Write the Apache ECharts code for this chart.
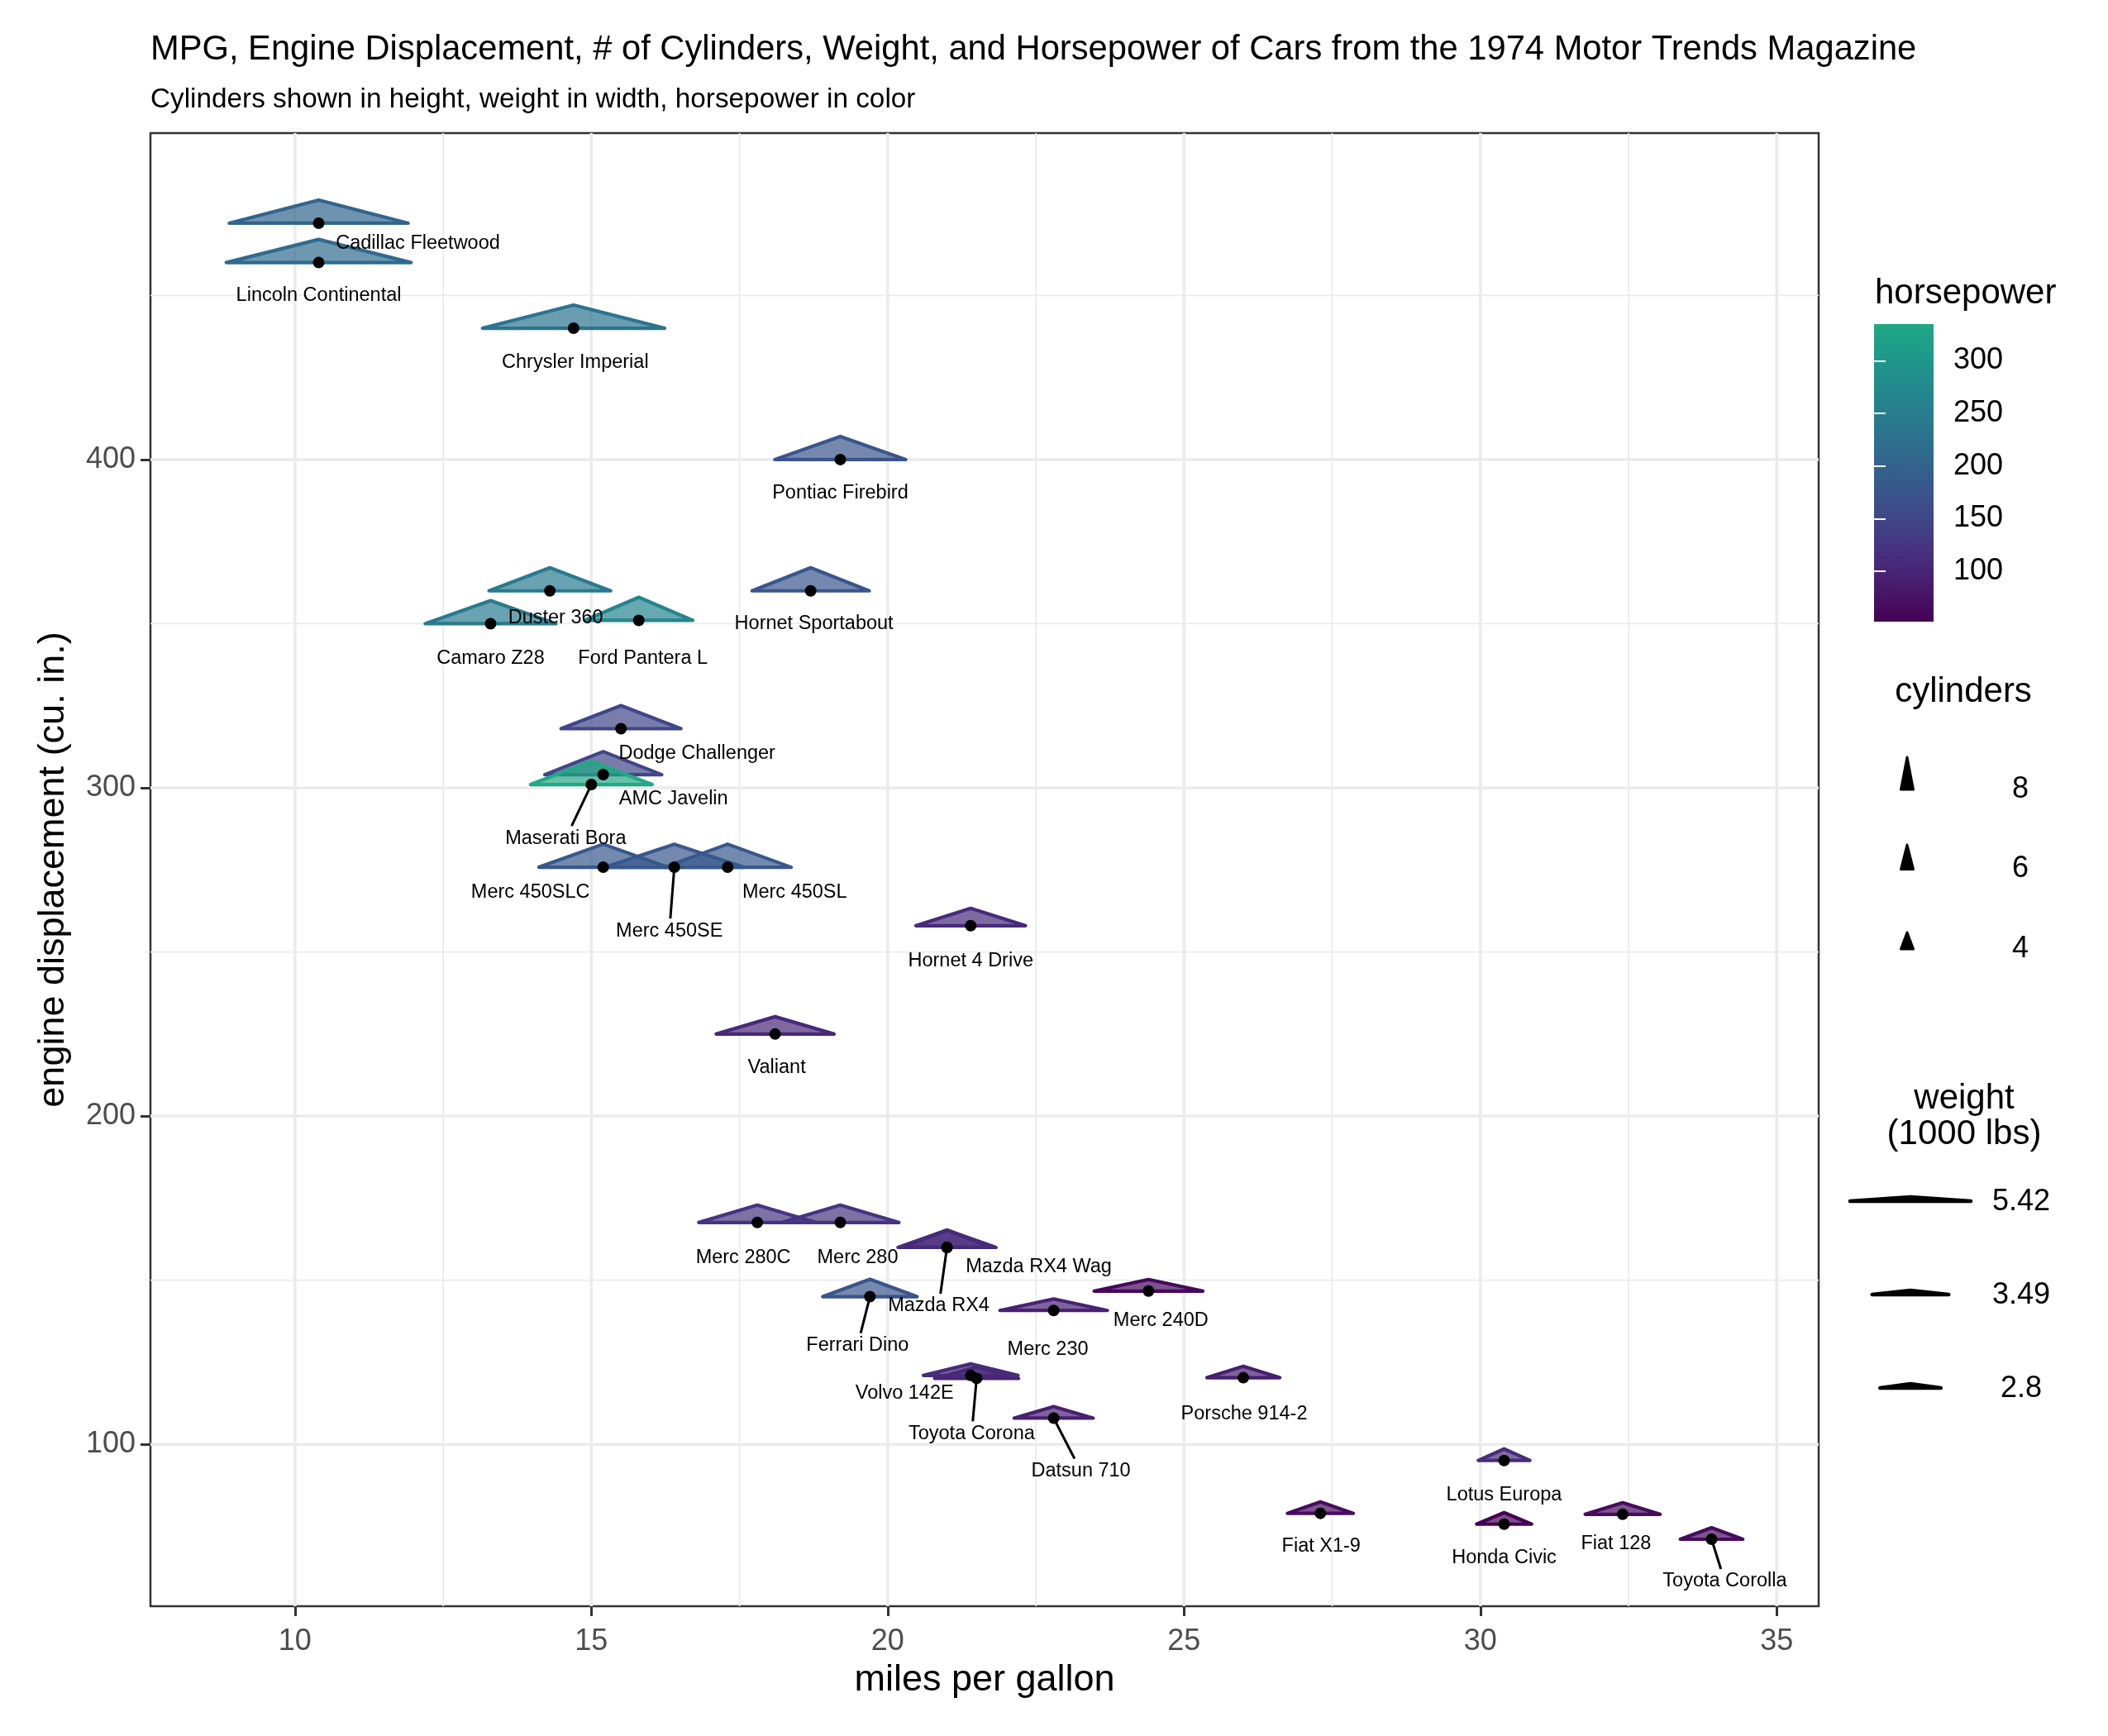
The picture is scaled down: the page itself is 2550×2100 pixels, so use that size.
<!DOCTYPE html>
<html>
<head>
<meta charset="utf-8">
<script src="https://cdn.jsdelivr.net/npm/echarts@6/dist/echarts.min.js"></script>
<style>
  html, body { margin: 0; padding: 0; background: #fff; }
  #chart { width: 2550px; height: 2100px; }
</style>
</head>
<body>
<div id="chart"></div>
<script>
// mtcars, Motor Trend 1974
const cars = ['Mazda RX4', 'Mazda RX4 Wag', 'Datsun 710', 'Hornet 4 Drive', 'Hornet Sportabout', 'Valiant',
  'Duster 360', 'Merc 240D', 'Merc 230', 'Merc 280', 'Merc 280C', 'Merc 450SE', 'Merc 450SL', 'Merc 450SLC',
  'Cadillac Fleetwood', 'Lincoln Continental', 'Chrysler Imperial', 'Fiat 128', 'Honda Civic', 'Toyota Corolla',
  'Toyota Corona', 'Dodge Challenger', 'AMC Javelin', 'Camaro Z28', 'Pontiac Firebird', 'Fiat X1-9',
  'Porsche 914-2', 'Lotus Europa', 'Ford Pantera L', 'Ferrari Dino', 'Maserati Bora', 'Volvo 142E'];
const mpg = [21.0, 21.0, 22.8, 21.4, 18.7, 18.1, 14.3, 24.4, 22.8, 19.2, 17.8, 16.4, 17.3, 15.2, 10.4, 10.4,
  14.7, 32.4, 30.4, 33.9, 21.5, 15.5, 15.2, 13.3, 19.2, 27.3, 26.0, 30.4, 15.8, 19.7, 15.0, 21.4];
const disp = [160, 160, 108, 258, 360, 225, 360, 146.7, 140.8, 167.6, 167.6, 275.8, 275.8, 275.8, 472, 460,
  440, 78.7, 75.7, 71.1, 120.1, 318, 304, 350, 400, 79, 120.3, 95.1, 351, 145, 301, 121];
const cyl = [6, 6, 4, 6, 8, 6, 8, 4, 4, 6, 6, 8, 8, 8, 8, 8, 8, 4, 4, 4, 4, 8, 8, 8, 8, 4, 4, 4, 8, 6, 8, 4];
const hp = [110, 110, 93, 110, 175, 105, 245, 62, 95, 123, 123, 180, 180, 180, 205, 215, 230, 66, 52, 65, 97,
  150, 150, 245, 175, 66, 91, 113, 264, 175, 335, 109];
const wt = [2.620, 2.875, 2.320, 3.215, 3.440, 3.460, 3.570, 3.190, 3.150, 3.440, 3.440, 4.070, 3.730, 3.780,
  5.250, 5.424, 5.345, 2.200, 1.615, 1.835, 2.465, 3.520, 3.435, 3.840, 3.845, 1.935, 2.140, 1.513, 3.170,
  2.770, 3.570, 2.780];

const xTicks = [10, 15, 20, 25, 30, 35];
const xMinor = [12.5, 17.5, 22.5, 27.5, 32.5];
const yTicks = [100, 200, 300, 400];
const yMinor = [150, 250, 350, 450];
const hpTicks = [100, 150, 200, 250, 300];
const cylLegend = [8, 6, 4];
const wtLegend = [5.42, 3.49, 2.8];

// viridis, cut at 0.6
const viridis = ['#440154', '#471365', '#482475', '#463480', '#414487', '#3B528B', '#355F8D',
  '#2F6C8E', '#2A788E', '#25848E', '#21908C', '#1E9C89', '#22A884'];

// triangle size: width in mpg per 1000 lbs, height in cu.in. per cylinder
const WIDTH_PER_WT = 0.575;
const HEIGHT_PER_CYL = 0.88;

// repelled label placement, pixel offset from the point, and whether a segment is drawn
const labelNudge = {
  'Mazda RX4': [-10, 71, 1], 'Mazda RX4 Wag': [111, 24, 0], 'Datsun 710': [33, 64, 1],
  'Hornet 4 Drive': [0, 43, 0], 'Hornet Sportabout': [4, 40, 0], 'Valiant': [2, 41, 0],
  'Duster 360': [7, 33, 0], 'Merc 240D': [15, 36, 0], 'Merc 230': [-7, 47, 0],
  'Merc 280': [21, 43, 0], 'Merc 280C': [-17, 43, 0], 'Merc 450SE': [-6, 77, 1],
  'Merc 450SL': [81, 30, 0], 'Merc 450SLC': [-88, 30, 0], 'Cadillac Fleetwood': [120, 25, 0],
  'Lincoln Continental': [0, 40, 0], 'Chrysler Imperial': [2, 41, 0], 'Fiat 128': [-8, 36, 0],
  'Honda Civic': [0, 41, 0], 'Toyota Corolla': [16, 51, 1], 'Toyota Corona': [-6, 67, 1],
  'Dodge Challenger': [92, 30, 0], 'AMC Javelin': [85, 29, 0], 'Camaro Z28': [0, 42, 0],
  'Pontiac Firebird': [0, 41, 0], 'Fiat X1-9': [1, 40, 0], 'Porsche 914-2': [1, 44, 0],
  'Lotus Europa': [0, 42, 0], 'Ford Pantera L': [5, 46, 0], 'Ferrari Dino': [-15, 59, 1],
  'Maserati Bora': [-31, 65, 1], 'Volvo 142E': [-80, 22, 0]
};

const FONT = '"Liberation Sans", Arial, Helvetica, sans-serif';

// axis limits like ggplot: data extent incl. triangles, expanded 5%
const xLo = Math.min(...mpg.map((m, i) => m - WIDTH_PER_WT * wt[i] / 2));
const xHi = Math.max(...mpg.map((m, i) => m + WIDTH_PER_WT * wt[i] / 2));
const yLo = Math.min(...disp);
const yHi = Math.max(...disp.map((d, i) => d + HEIGHT_PER_CYL * cyl[i]));
const xMin = xLo - (xHi - xLo) * 0.05, xMax = xHi + (xHi - xLo) * 0.05;
const yMin = yLo - (yHi - yLo) * 0.05, yMax = yHi + (yHi - yLo) * 0.05;
const hpMin = Math.min(...hp), hpMax = Math.max(...hp);

const carData = mpg.map((m, i) => [m, disp[i], cyl[i], wt[i], hp[i]]);
const gridData = [
  ...xMinor.map(v => [v, 0, 0]), ...yMinor.map(v => [v, 1, 0]),
  ...xTicks.map(v => [v, 0, 1]), ...yTicks.map(v => [v, 1, 1])
];

const chart = echarts.init(document.getElementById('chart'));

const renderGridLine = (params, api) => {
  const cs = params.coordSys;
  const v = api.value(0);
  const w = api.value(2) ? 3.5 : 1.8;
  let shape;
  if (api.value(1) === 0) {
    const x = api.coord([v, yMin])[0];
    shape = { x1: x, y1: cs.y, x2: x, y2: cs.y + cs.height };
  } else {
    const y = api.coord([xMin, v])[1];
    shape = { x1: cs.x, y1: y, x2: cs.x + cs.width, y2: y };
  }
  return { type: 'line', shape, style: { stroke: '#EBEBEB', lineWidth: w } };
};

const renderTriangle = (params, api) => {
  const base = api.coord([api.value(0), api.value(1)]);
  const halfW = api.size([api.value(3) * WIDTH_PER_WT / 2, 0])[0];
  const h = api.size([0, api.value(2) * HEIGHT_PER_CYL])[1];
  const c = api.visual('color');
  return {
    type: 'polygon',
    shape: { points: [[base[0] - halfW, base[1]], [base[0], base[1] - h], [base[0] + halfW, base[1]]] },
    style: { fill: echarts.color.modifyAlpha(c, 0.7), stroke: c, lineWidth: 4.2, lineJoin: 'round' }
  };
};

const renderLabel = (params, api) => {
  const name = cars[params.dataIndex];
  const p = api.coord([api.value(0), api.value(1)]);
  const n = labelNudge[name];
  const children = [];
  if (n[2]) {
    const t = (n[1] - 15) / n[1];
    children.push({
      type: 'line',
      shape: { x1: p[0], y1: p[1], x2: p[0] + n[0] * t, y2: p[1] + n[1] * t },
      style: { stroke: '#000', lineWidth: 3 }
    });
  }
  children.push({
    type: 'text',
    style: {
      text: name, x: p[0] + n[0], y: p[1] + n[1], align: 'center', verticalAlign: 'middle',
      fontSize: 23.5, fontFamily: FONT, fill: '#000'
    }
  });
  return { type: 'group', children };
};

const renderColorbar = (params) => {
  const cs = params.coordSys;
  return {
    type: 'rect',
    shape: { x: cs.x, y: cs.y, width: cs.width, height: cs.height },
    style: {
      fill: {
        type: 'linear', x: 0, y: 1, x2: 0, y2: 0,
        colorStops: viridis.map((c, k) => ({ offset: k / (viridis.length - 1), color: c }))
      }
    }
  };
};

// legend keys for cylinders and weight
const legendGraphics = [];
legendGraphics.push({
  type: 'text', left: 2268, top: 334,
  style: { text: 'horsepower', fontSize: 42, fontFamily: FONT, fill: '#000' }
});
legendGraphics.push({
  type: 'text', x: 2375, y: 837,
  style: { text: 'cylinders', fontSize: 42, fontFamily: FONT, fill: '#000', align: 'center', verticalAlign: 'middle' }
});
cylLegend.forEach((c, k) => {
  const cx = 2307, by = 955 + k * 96.5, h = 4.75 * c + 1;
  legendGraphics.push({
    type: 'polygon',
    shape: { points: [[cx - 7.5, by], [cx, by - h], [cx + 7.5, by]] },
    style: { fill: '#000', stroke: '#000', lineWidth: 3, lineJoin: 'round' }
  });
  legendGraphics.push({
    type: 'text', x: 2444, y: by,
    style: { text: String(c), fontSize: 36, fontFamily: FONT, fill: '#000', align: 'center', verticalAlign: 'middle' }
  });
});
legendGraphics.push({
  type: 'text', x: 2376, y: 1351,
  style: {
    text: 'weight\n(1000 lbs)', fontSize: 42, lineHeight: 43, fontFamily: FONT, fill: '#000',
    align: 'center', verticalAlign: 'middle'
  }
});
wtLegend.forEach((w, k) => {
  const cx = 2311, by = 1453 + k * 113, half = (27.7 * w - 4) / 2;
  legendGraphics.push({
    type: 'polygon',
    shape: { points: [[cx - half, by], [cx, by - 5], [cx + half, by]] },
    style: { fill: '#000', stroke: '#000', lineWidth: 4.5, lineJoin: 'round' }
  });
  legendGraphics.push({
    type: 'text', x: 2445, y: by + 1,
    style: { text: String(w), fontSize: 36, fontFamily: FONT, fill: '#000', align: 'center', verticalAlign: 'middle' }
  });
});

const option = {
  animation: false,
  backgroundColor: '#fff',
  textStyle: { fontFamily: FONT },
  title: {
    text: 'MPG, Engine Displacement, # of Cylinders, Weight, and Horsepower of Cars from the 1974 Motor Trends Magazine',
    subtext: 'Cylinders shown in height, weight in width, horsepower in color',
    left: 182, top: 40, padding: 0, itemGap: 22,
    textStyle: { fontSize: 41.7, fontWeight: 'normal', color: '#000', fontFamily: FONT },
    subtextStyle: { fontSize: 33.3, color: '#000', fontFamily: FONT }
  },
  grid: [
    { left: 182, top: 161, width: 2018, height: 1782, show: true, borderColor: '#333333', borderWidth: 2.5, backgroundColor: 'transparent' },
    { left: 2267, top: 392, width: 72, height: 360 }
  ],
  xAxis: [
    {
      type: 'value', gridIndex: 0, min: xMin, max: xMax,
      splitLine: { show: false }, axisLine: { show: false },
      axisTick: { show: true, customValues: xTicks, length: 12, lineStyle: { color: '#333333', width: 3 } },
      axisLabel: {
        customValues: xTicks, fontSize: 36, color: '#4D4D4D', margin: 25,
        formatter: v => (xTicks.includes(v) ? String(v) : '')
      },
      name: 'miles per gallon', nameLocation: 'middle', nameGap: 67,
      nameTextStyle: { fontSize: 45, color: '#000' }
    },
    { type: 'value', gridIndex: 1, min: 0, max: 1, show: false }
  ],
  yAxis: [
    {
      type: 'value', gridIndex: 0, min: yMin, max: yMax,
      splitLine: { show: false }, axisLine: { show: false },
      axisTick: { show: true, customValues: yTicks, length: 12, lineStyle: { color: '#333333', width: 3 } },
      axisLabel: {
        customValues: yTicks, fontSize: 36, color: '#4D4D4D', margin: 18,
        formatter: v => (yTicks.includes(v) ? String(v) : '')
      },
      name: 'engine displacement (cu. in.)', nameLocation: 'middle', nameGap: 95, nameRotate: 90,
      nameTextStyle: { fontSize: 45, color: '#000' }
    },
    {
      type: 'value', gridIndex: 1, min: hpMin, max: hpMax, position: 'right', z: 10,
      splitLine: { show: false }, axisLine: { show: false },
      axisTick: { show: true, inside: true, customValues: hpTicks, length: 14, lineStyle: { color: '#fff', width: 2 } },
      axisLabel: {
        customValues: hpTicks, fontSize: 36, color: '#000', margin: 24, verticalAlign: 'middle', padding: [6, 0, 0, 0],
        formatter: v => (hpTicks.includes(v) ? String(v) : '')
      }
    },
    {
      type: 'value', gridIndex: 1, min: hpMin, max: hpMax, position: 'left', z: 10,
      splitLine: { show: false }, axisLine: { show: false }, axisLabel: { show: false },
      axisTick: { show: true, inside: true, customValues: hpTicks, length: 14, lineStyle: { color: '#fff', width: 2 } }
    }
  ],
  visualMap: {
    type: 'continuous', show: false, seriesIndex: 1, dimension: 4,
    min: hpMin, max: hpMax, inRange: { color: viridis }
  },
  series: [
    {
      name: 'grid', type: 'custom', xAxisIndex: 0, yAxisIndex: 0, z: 1, silent: true,
      data: gridData, renderItem: renderGridLine
    },
    {
      name: 'cars', type: 'custom', xAxisIndex: 0, yAxisIndex: 0, z: 2,
      encode: { x: 0, y: 1 }, data: carData, renderItem: renderTriangle
    },
    {
      name: 'points', type: 'scatter', xAxisIndex: 0, yAxisIndex: 0, z: 3,
      symbolSize: 14, itemStyle: { color: '#000', opacity: 1 },
      data: mpg.map((m, i) => [m, disp[i]])
    },
    {
      name: 'labels', type: 'custom', xAxisIndex: 0, yAxisIndex: 0, z: 4, silent: true,
      encode: { x: 0, y: 1 }, data: carData, renderItem: renderLabel
    },
    {
      name: 'colorbar', type: 'custom', xAxisIndex: 1, yAxisIndex: 1, z: 2, silent: true,
      data: [[0.5, hpMin]], renderItem: renderColorbar
    }
  ],
  graphic: legendGraphics
};

chart.setOption(option);
</script>
</body>
</html>
